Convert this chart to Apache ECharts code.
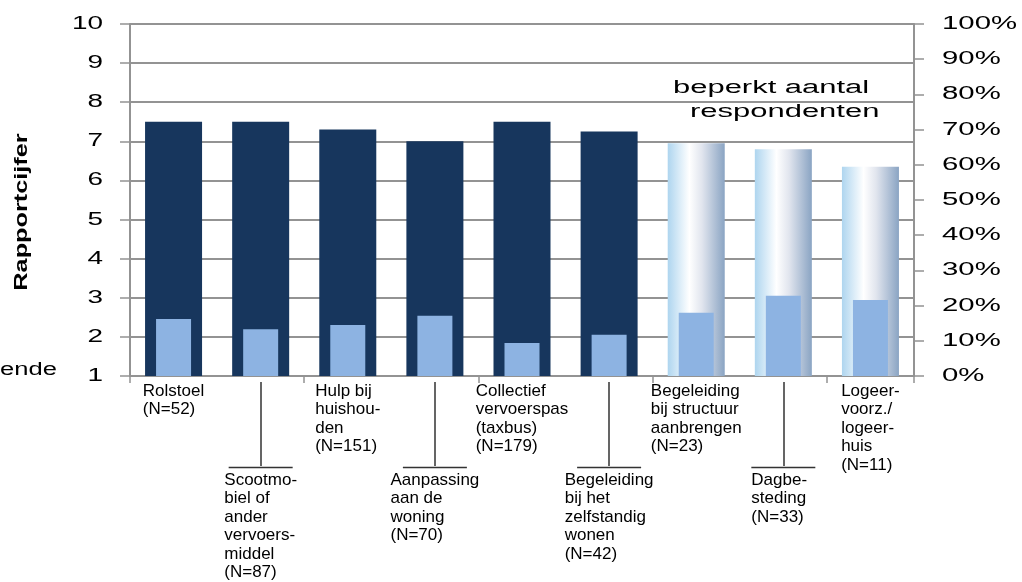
<!DOCTYPE html>
<html>
<head>
<meta charset="utf-8">
<script src="https://cdn.jsdelivr.net/npm/echarts@6/dist/echarts.min.js"></script>
<style>
  html, body { margin: 0; padding: 0; background: #ffffff; }
  #chart { width: 1022px; height: 582px; }
</style>
</head>
<body>
<div id="chart"></div>
<script>
// Voorzieningen (categories), with their manual line breaks
const categories = [
  'Rolstoel',
  'Scootmo-\nbiel of\nander\nvervoers-\nmiddel',
  'Hulp bij\nhuishou-\nden',
  'Aanpassing\naan de\nwoning',
  'Collectief\nvervoerspas\n(taxbus)',
  'Begeleiding\nbij het\nzelfstandig\nwonen',
  'Begeleiding\nbij structuur\naanbrengen',
  'Dagbe-\nsteding',
  'Logeer-\nvoorz./\nlogeer-\nhuis'
];
// Number of respondents per voorziening
const respondents = [52, 87, 151, 70, 179, 42, 23, 33, 11];
// Average report mark (left axis, 1-10)
const rapportcijfer = [7.5, 7.5, 7.3, 7.0, 7.5, 7.25, 6.95, 6.8, 6.35];
// Share of respondents (right axis, %)
const percentage = [16.2, 13.3, 14.5, 17.1, 9.4, 11.7, 18.0, 22.8, 21.6];
// Tick labels of both value axes
const markTicks = [1, 2, 3, 4, 5, 6, 7, 8, 9, 10];
const shareTicks = [0, 10, 20, 30, 40, 50, 60, 70, 80, 90, 100];
// Fewer respondents than this counts as "beperkt aantal respondenten"
const LIMITED_N = 40;

const GRID = '#939393';
const DARK = '#17365d';
const LIGHT = '#8db3e2';
const LIMITED_FILL = {
  type: 'linear', x: 0, y: 0, x2: 1, y2: 0,
  colorStops: [
    { offset: 0, color: '#aed5ef' },
    { offset: 0.38, color: '#ffffff' },
    { offset: 0.6, color: '#e1e5ee' },
    { offset: 1, color: '#8aa4c3' }
  ]
};

const markData = rapportcijfer.map((v, i) => ({
  value: v,
  itemStyle: { color: respondents[i] < LIMITED_N ? LIMITED_FILL : DARK }
}));

function categoryLabel(value, index, lower) {
  const lines = value.split('\n').concat('(N=' + respondents[index] + ')');
  const body = lines.map(l => '{t|' + l + '}').join('\n');
  return lower ? '{r| }\n' + body : body;
}

const labelRich = {
  t: { fontFamily: 'Liberation Sans', fontSize: 17, lineHeight: 18.5, color: '#000', align: 'left' },
  r: { width: 64, height: 1.6, fontSize: 1, lineHeight: 7, backgroundColor: '#333', align: 'center' }
};

const chart = echarts.init(document.getElementById('chart'), null, { renderer: 'canvas' });

chart.setOption({
  animation: false,
  backgroundColor: '#ffffff',
  grid: { left: 130, right: 108, top: 24, bottom: 206, containLabel: false },
  xAxis: [
    {
      type: 'category',
      data: categories,
      axisLine: { show: true, lineStyle: { color: GRID, width: 2 } },
      axisTick: { show: true, length: 7, lineStyle: { color: GRID, width: 1.5 } },
      axisLabel: {
        interval: i => i % 2 === 0,
        margin: 6,
        formatter: (v, i) => categoryLabel(v, i, false),
        rich: labelRich
      },
      splitLine: { show: false }
    },
    {
      type: 'category',
      data: categories,
      position: 'bottom',
      offset: 6,
      axisLine: { show: false },
      axisTick: {
        show: true, alignWithLabel: true, length: 84,
        interval: i => i % 2 === 1,
        lineStyle: { color: '#333', width: 1.5 }
      },
      axisLabel: {
        interval: i => i % 2 === 1,
        margin: 82,
        formatter: (v, i) => categoryLabel(v, i, true),
        rich: labelRich
      },
      splitLine: { show: false }
    }
  ],
  yAxis: [
    {
      type: 'value',
      min: 1, max: 10, interval: 1,
      axisLine: { show: true, lineStyle: { color: GRID, width: 2 } },
      axisTick: { show: true, length: 10, lineStyle: { color: GRID, width: 1.5 } },
      axisLabel: { show: false },
      splitLine: { show: true, lineStyle: { color: GRID, width: 2 } }
    },
    {
      type: 'value',
      position: 'right',
      min: 0, max: 100, interval: 10,
      axisLine: { show: true, lineStyle: { color: GRID, width: 2 } },
      axisTick: { show: true, length: 10, lineStyle: { color: GRID, width: 1.5 } },
      axisLabel: { show: false },
      splitLine: { show: false }
    }
  ],
  series: [
    {
      name: 'Rapportcijfer',
      type: 'bar',
      xAxisIndex: 0,
      yAxisIndex: 0,
      barWidth: 57,
      data: markData
    },
    {
      name: 'Percentage',
      type: 'bar',
      xAxisIndex: 1,
      yAxisIndex: 1,
      barWidth: 35,
      itemStyle: { color: LIGHT },
      data: percentage
    }
  ]
});

// Static captions
const graphics = [
  {
    type: 'text', x: 22, y: 212, rotation: Math.PI / 2, scaleX: 1.33,
    style: { text: 'Rapportcijfer', fontFamily: 'Liberation Sans', fontWeight: 'bold', fontSize: 19,
             fill: '#000', align: 'center', verticalAlign: 'middle' }
  },
  {
    type: 'text', x: 0, y: 370, scaleX: 1.42,
    style: { text: 'ende', fontFamily: 'Liberation Sans', fontSize: 18, fill: '#000',
             align: 'left', verticalAlign: 'middle' }
  },
  {
    type: 'text', x: 673, y: 88, scaleX: 1.72,
    style: { text: 'beperkt aantal', fontFamily: 'Liberation Sans', fontSize: 18, fill: '#000',
             align: 'left', verticalAlign: 'middle' }
  },
  {
    type: 'text', x: 690, y: 112, scaleX: 1.72,
    style: { text: 'respondenten', fontFamily: 'Liberation Sans', fontSize: 18, fill: '#000',
             align: 'left', verticalAlign: 'middle' }
  }
];

// Wide tick labels, placed through the value axes' own scales
const gridRect = chart.getModel().getComponent('grid').coordinateSystem.getRect();
markTicks.forEach(v => {
  graphics.push({
    type: 'text', x: gridRect.x - 27, y: chart.convertToPixel({ yAxisIndex: 0 }, v), scaleX: 1.55,
    style: { text: String(v), fontFamily: 'Liberation Sans', fontSize: 18, fill: '#000',
             align: 'right', verticalAlign: 'middle' }
  });
});
shareTicks.forEach(v => {
  graphics.push({
    type: 'text', x: gridRect.x + gridRect.width + 28, y: chart.convertToPixel({ yAxisIndex: 1 }, v), scaleX: 1.63,
    style: { text: v + '%', fontFamily: 'Liberation Sans', fontSize: 18, fill: '#000',
             align: 'left', verticalAlign: 'middle' }
  });
});

chart.setOption({ graphic: graphics });
</script>
</body>
</html>
